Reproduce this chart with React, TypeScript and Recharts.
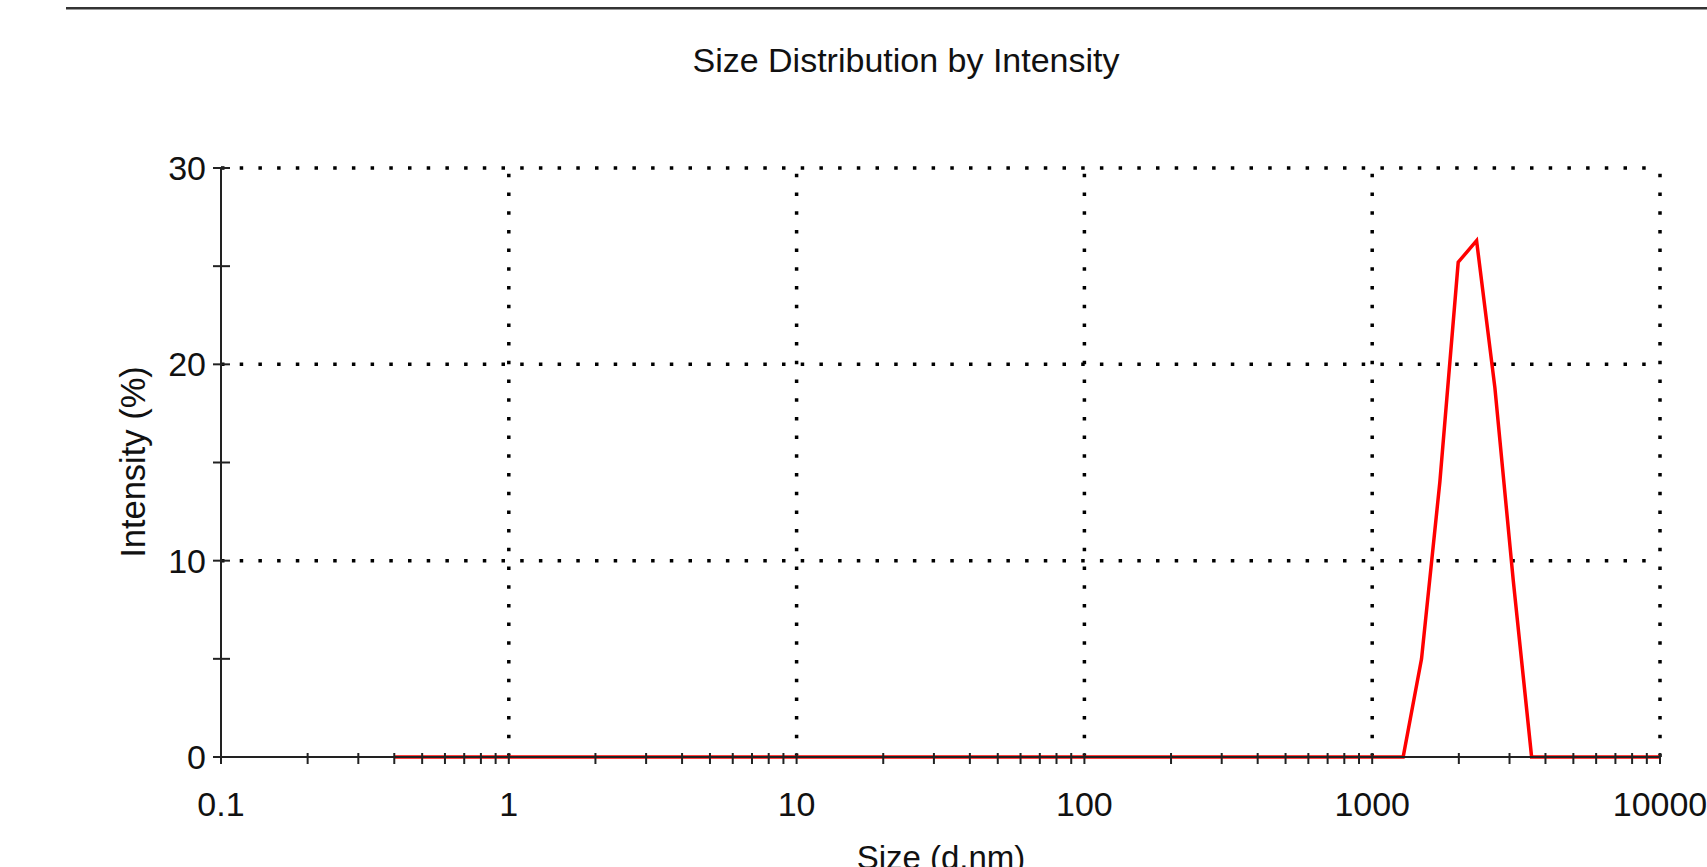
import { Line, LineChart, ReferenceLine, XAxis, YAxis } from 'recharts'

// Zetasizer size classes (d.nm) and the intensity
const sizes = [
  0.4, 0.4632, 0.5365, 0.6213, 0.7195, 0.8332, 0.9649, 1.117, 1.294, 1.499,
  1.736, 2.01, 2.328, 2.696, 3.122, 3.615, 4.187, 4.849, 5.615, 6.503,
  7.531, 8.721, 10.1, 11.7, 13.54, 15.69, 18.17, 21.04, 24.36, 28.21,
  32.67, 37.84, 43.82, 50.75, 58.77, 68.06, 78.82, 91.28, 105.7, 122.4,
  141.8, 164.2, 190.1, 220.2, 255.0, 295.3, 342.0, 396.1, 458.7, 531.2,
  615.1, 712.4, 825.0, 955.4, 1106, 1281, 1484, 1718, 1990, 2305,
  2669, 3091, 3580, 4145, 4801, 5560, 6439, 7456, 8635, 10000,
]

const intensity = [
  0, 0, 0, 0, 0, 0, 0, 0, 0, 0,
  0, 0, 0, 0, 0, 0, 0, 0, 0, 0,
  0, 0, 0, 0, 0, 0, 0, 0, 0, 0,
  0, 0, 0, 0, 0, 0, 0, 0, 0, 0,
  0, 0, 0, 0, 0, 0, 0, 0, 0, 0,
  0, 0, 0, 0, 0, 0, 5.0, 14.0, 25.2, 26.3,
  18.8, 9.0, 0, 0, 0, 0, 0, 0, 0, 0,
]

const xTicks = [
  0.1, 0.2, 0.3, 0.4, 0.5, 0.6, 0.7, 0.8, 0.9,
  1, 2, 3, 4, 5, 6, 7, 8, 9,
  10, 20, 30, 40, 50, 60, 70, 80, 90,
  100, 200, 300, 400, 500, 600, 700, 800, 900,
  1000, 2000, 3000, 4000, 5000, 6000, 7000, 8000, 9000,
  10000,
]
const xLabels = [0.1, 1, 10, 100, 1000, 10000]
const yTicks = [0, 5, 10, 15, 20, 25, 30]
const yLabels = [0, 10, 20, 30]
const xGrid = [1, 10, 100, 1000, 10000]
const yGrid = [10, 20, 30]

const data = sizes.map((size, i) => ({ size, intensity: intensity[i] }))

const W = 1707
const H = 867
const FONT = '"Liberation Sans", Arial, sans-serif'
const INK = '#222'

function XTick(props: any) {
  const { x, y, payload } = props
  const v = payload.value
  return (
    <g>
      <line x1={x} x2={x} y1={y - 4} y2={y + 7} stroke={INK} strokeWidth={2} />
      {xLabels.includes(v) && (
        <text x={x} y={y + 59} textAnchor="middle" fontSize={34} fontFamily={FONT} fill="#111">
          {String(v)}
        </text>
      )}
    </g>
  )
}

function YTick(props: any) {
  const { x, y, payload } = props
  const v = payload.value
  return (
    <g>
      <line x1={x - 8} x2={x + 9} y1={y} y2={y} stroke={INK} strokeWidth={2} />
      {yLabels.includes(v) && (
        <text x={x - 15} y={y + 12} textAnchor="end" fontSize={34} fontFamily={FONT} fill="#111">
          {String(v)}
        </text>
      )}
    </g>
  )
}

export default function App() {
  return (
    <div
      style={{
        position: 'absolute',
        left: 0,
        top: 0,
        width: W,
        height: H,
        overflow: 'hidden',
        background: '#fff',
        fontFamily: FONT,
      }}
    >
      <div
        style={{
          position: 'absolute',
          left: 66,
          right: 0,
          top: 7,
          height: 2,
          background: '#333',
          borderBottom: '1px solid #999',
        }}
      />
      <div style={{ position: 'absolute', left: 0, top: 0 }}>
        <LineChart
          width={W}
          height={H}
          data={data}
          margin={{ top: 168, right: 47, bottom: 50, left: 141 }}
        >
          <XAxis
            dataKey="size"
            type="number"
            scale="log"
            domain={[0.1, 10000]}
            ticks={xTicks}
            interval={0}
            allowDataOverflow
            height={60}
            tickSize={0}
            tickMargin={0}
            tickLine={false}
            axisLine={{ stroke: INK, strokeWidth: 2 }}
            tick={<XTick />}
          />
          <YAxis
            type="number"
            domain={[0, 30]}
            ticks={yTicks}
            interval={0}
            width={80}
            tickSize={0}
            tickMargin={0}
            tickLine={false}
            axisLine={{ stroke: INK, strokeWidth: 2 }}
            tick={<YTick />}
          />
          {yGrid.map((v) => (
            <ReferenceLine key={`h${v}`} y={v} stroke="#000" strokeWidth={3.5} strokeDasharray="3.5 15.2" />
          ))}
          {xGrid.map((v) => (
            <ReferenceLine key={`v${v}`} x={v} stroke="#000" strokeWidth={3.5} strokeDasharray="3.5 15.2" />
          ))}
          <Line
            type="linear"
            dataKey="intensity"
            stroke="#ff0000"
            strokeWidth={3.5}
            dot={false}
            isAnimationActive={false}
          />
        </LineChart>
      </div>
      <svg
        width={W}
        height={H}
        style={{ position: 'absolute', left: 0, top: 0, pointerEvents: 'none', overflow: 'visible' }}
      >
        <text x={906} y={72} textAnchor="middle" fontSize={34} fontFamily={FONT} fill="#111">
          Size Distribution by Intensity
        </text>
        <text x={941} y={869} textAnchor="middle" fontSize={33} fontFamily={FONT} fill="#111">
          Size (d.nm)
        </text>
        <text
          x={0}
          y={0}
          transform="translate(145 462) rotate(-90)"
          textAnchor="middle"
          fontSize={34.5}
          fontFamily={FONT}
          fill="#111"
        >
          Intensity (%)
        </text>
      </svg>
    </div>
  )
}
